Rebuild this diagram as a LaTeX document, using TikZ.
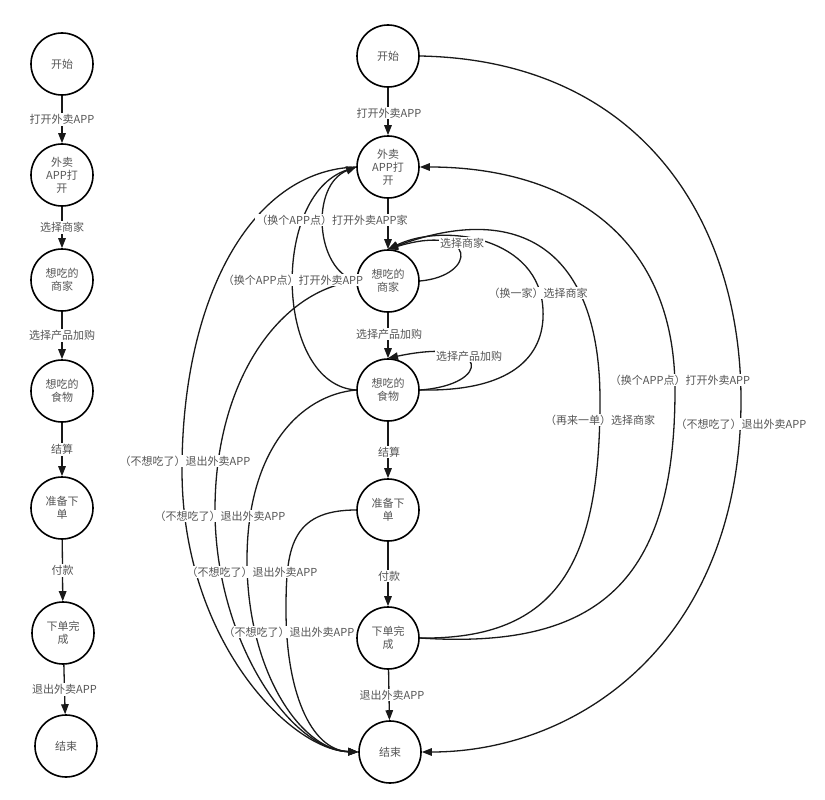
\documentclass[tikz,border=0pt]{standalone}
\usepackage{fontspec}
\setmainfont{Noto Sans CJK SC}
\usetikzlibrary{arrows.meta}
\definecolor{txtgray}{HTML}{555555}
\begin{document}
\begin{tikzpicture}[x=1pt,y=-1pt,
  st/.style={circle,draw=black,line width=1.6pt,minimum size=62pt,inner sep=0pt,align=center,text=txtgray,font=\fontsize{11}{13}\selectfont},
  lbl/.style={fill=white,inner sep=1pt,text=txtgray,font=\fontsize{11}{13}\selectfont},
  edge/.style={line width=1.3pt,draw=black!90,-{Triangle[length=10pt,width=7.5pt]}}
]
\fill[white] (0,0) rectangle (825,800);
\useasboundingbox (0,0) rectangle (825,800);

% left chain
\node[st] (L1) at (62,64) {开始};
\node[st] (L2) at (62,175) {外卖\\APP打\\开};
\node[st] (L3) at (62,280) {想吃的\\商家};
\node[st] (L4) at (62,391) {想吃的\\食物};
\node[st] (L5) at (62,508) {准备下\\单};
\node[st] (L6) at (63,633) {下单完\\成};
\node[st] (L7) at (66,746) {结束};

\draw[edge] (L1) -- node[lbl]{打开外卖APP} (L2);
\draw[edge] (L2) -- node[lbl]{选择商家} (L3);
\draw[edge] (L3) -- node[lbl]{选择产品加购} (L4);
\draw[edge] (L4) -- node[lbl]{结算} (L5);
\draw[edge] (L5) -- node[lbl]{付款} (L6);
\draw[edge] (L6) -- node[lbl]{退出外卖APP} (L7);

% right graph
\node[st] (R1) at (388,56) {开始};
\node[st] (R2) at (388,167) {外卖\\APP打\\开};
\node[st] (R3) at (388,281) {想吃的\\商家};
\node[st] (R4) at (388,390) {想吃的\\食物};
\node[st] (R5) at (388,510) {准备下\\单};
\node[st] (R6) at (388,638) {下单完\\成};
\node[st] (R7) at (390,752) {结束};

\draw[edge] (R1) -- (R2);
\draw[edge] (R2) -- (R3);
\draw[edge] (R3) -- (R4);
\draw[edge] (R4) -- (R5);
\draw[edge] (R5) -- (R6);
\draw[edge] (R6) -- (R7);

% self loops
\draw[edge] (R3.east) .. controls (478,276) and (478,222) .. (R3.north);
\draw[edge] (R4.east) .. controls (492,385) and (492,336) .. (R4.north);

% right arcs
\draw[edge] (R4.east) .. controls (520,392) and (545,350) .. (543,310)
  .. controls (540,238) and (445,222) .. (R3.north);
\draw[edge] (R6.east) .. controls (560,640) and (600,560) .. (600,400)
  .. controls (600,250) and (520,200) .. (R3.north);
\draw[edge] (R6.east) .. controls (600,650) and (675,580) .. (675,390)
  .. controls (675,230) and (560,167) .. (R2.east);
\draw[edge] (R1.east) .. controls (640,60) and (741,220) .. (741,400)
  .. controls (741,640) and (580,752) .. (R7.east);

% left arcs to R2
\draw[edge] (R3.west) .. controls (315,270) and (310,185) .. (R2.west);
\draw[edge] (R4.west) .. controls (275,385) and (270,195) .. (R2.west);

% arcs to R7
\draw[edge] (R2.west) .. controls (250,170) and (182,300) .. (182,470)
  .. controls (182,640) and (290,750) .. (R7.west);
\draw[edge] (R3.west) .. controls (280,290) and (215,380) .. (215,510)
  .. controls (215,640) and (290,750) .. (R7.west);
\draw[edge] (R4.west) .. controls (300,395) and (247,450) .. (247,560)
  .. controls (247,670) and (300,750) .. (R7.west);
\draw[edge] (R5.west) .. controls (290,510) and (286,550) .. (286,610)
  .. controls (286,690) and (310,750) .. (R7.west);

% labels
\node[lbl] (t1) at (389,113) {打开外卖APP};
\node[lbl] (t2) at (389,334) {选择产品加购};
\node[lbl] (t3) at (389,452) {结算};
\node[lbl] (t4) at (389,576) {付款};
\node[lbl] (t5) at (392,695) {退出外卖APP};
\node[lbl] (t6) at (332,220) {（换个APP点）打开外卖APP家};
\node[lbl] (t7) at (462,243) {选择商家};
\node[lbl] (t8) at (293,280) {（换个APP点）打开外卖APP};
\node[lbl] (t9) at (538,293) {（换一家）选择商家};
\node[lbl] (t10) at (469,356) {选择产品加购};
\node[lbl] (t11) at (680,380) {（换个APP点）打开外卖APP};
\node[lbl] (t12) at (600,420) {（再来一单）选择商家};
\node[lbl] (t13) at (741,424) {（不想吃了）退出外卖APP};
\node[lbl] (t14) at (185,461) {（不想吃了）退出外卖APP};
\node[lbl] (t15) at (220,516) {（不想吃了）退出外卖APP};
\node[lbl] (t16) at (252,572) {（不想吃了）退出外卖APP};
\node[lbl] (t17) at (289,632) {（不想吃了）退出外卖APP};
\end{tikzpicture}
\end{document}
